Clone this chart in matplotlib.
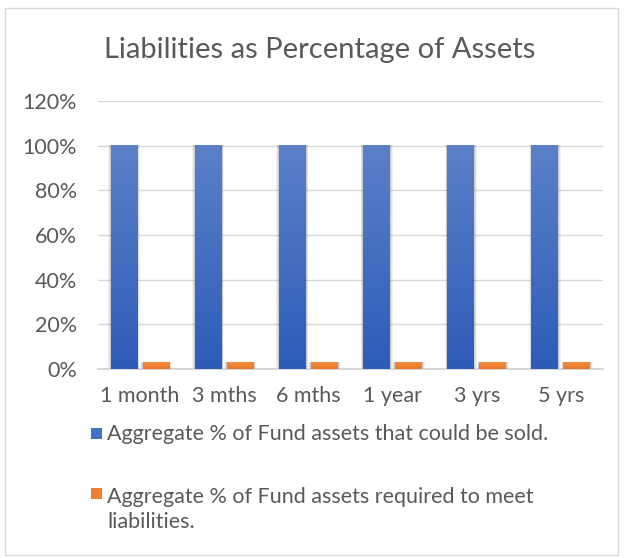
import matplotlib
matplotlib.use("Agg")
import matplotlib.pyplot as plt
import numpy as np
from matplotlib.patches import Rectangle
from matplotlib.colors import LinearSegmentedColormap

categories = ["1 month", "3 mths", "6 mths", "1 year", "3 yrs", "5 yrs"]
sold = [100, 100, 100, 100, 100, 100]
required = [3, 3, 3, 3, 3, 3]
series_names = ["Aggregate % of Fund assets that could be sold.",
                "Aggregate % of Fund assets required to meet\nliabilities."]
series_colors = ['#4472C4', '#ED7D31']
yticks = [0, 20, 40, 60, 80, 100, 120]

plt.rcParams['font.family'] = ['Lato', 'DejaVu Sans']
txt = '#595959'
fs = 15.5
W, H = 626, 558

fig = plt.figure(figsize=(6.26, 5.58), dpi=100)
ax = fig.add_axes([98/W, 1-369/H, (603-98)/W, (369-101)/H])

x = np.arange(len(categories))
w = 0.32
b1 = ax.bar(x - 0.19, sold, w, color=series_colors[0], zorder=3)
b2 = ax.bar(x + 0.19, required, w, color=series_colors[1], zorder=3)

blue_cmap = LinearSegmentedColormap.from_list('b', ['#2D5CB8', '#5B80C8'])
orange_cmap = LinearSegmentedColormap.from_list('o', ['#E9762B', '#F48B3E'])
grad = np.linspace(0, 1, 256).reshape(-1, 1)
for bars, cmap in ((b1, blue_cmap), (b2, orange_cmap)):
    for p in bars:
        x0, y0 = p.get_x(), p.get_y()
        ww, hh = p.get_width(), p.get_height()
        for k, a in ((0.03, 0.05), (0.02, 0.07), (0.01, 0.09)):
            ax.add_patch(Rectangle((x0 - k, y0), ww + 2*k, hh + k*10, color='black',
                                   alpha=a, lw=0, zorder=2))
        ax.imshow(grad, cmap=cmap, extent=[x0, x0+ww, y0, y0+hh], aspect='auto',
                  origin='lower', zorder=4)
        p.set_alpha(0)

ax.set_xlim(-0.5, len(categories) - 0.5)
ax.set_ylim(0, 120)
ax.set_yticks(yticks)
ax.set_yticklabels([f"{v}%" for v in yticks])
ax.set_xticks(x)
ax.set_xticklabels(categories)
ax.grid(axis='y', color='#D9D9D9', lw=1, zorder=0)
for s in ['top', 'right', 'left']:
    ax.spines[s].set_visible(False)
ax.spines['bottom'].set_color('#D0D0D0')
ax.spines['bottom'].set_linewidth(1.2)
ax.tick_params(length=0, labelsize=fs, colors=txt)
ax.tick_params(axis='y', pad=15)
ax.tick_params(axis='x', pad=12)

fig.text(320/W, 1-50/H, "Liabilities as Percentage of Assets", ha='center', va='center',
         fontsize=21, color=txt)

# legend drawn manually
leg_y = [433, 493]
line_px = 28
for name, col, yc in zip(series_names, series_colors, leg_y):
    fig.patches.append(Rectangle((91/W, 1-(yc+5.5)/H), 11/W, 11/H, transform=fig.transFigure,
                                 color=col, lw=0))
    nlines = name.count("\n")
    base_last = yc + 7 + line_px * nlines
    fig.text(107/W, 1-base_last/H, name, ha='left', va='baseline', fontsize=fs, color=txt,
             linespacing=1.3)

fig.patches.append(Rectangle((5/W, 3/H), 613/W, 547/H, transform=fig.transFigure,
                             fill=False, ec='#D9D9D9', lw=1))

fig.savefig("out.png", dpi=100)
